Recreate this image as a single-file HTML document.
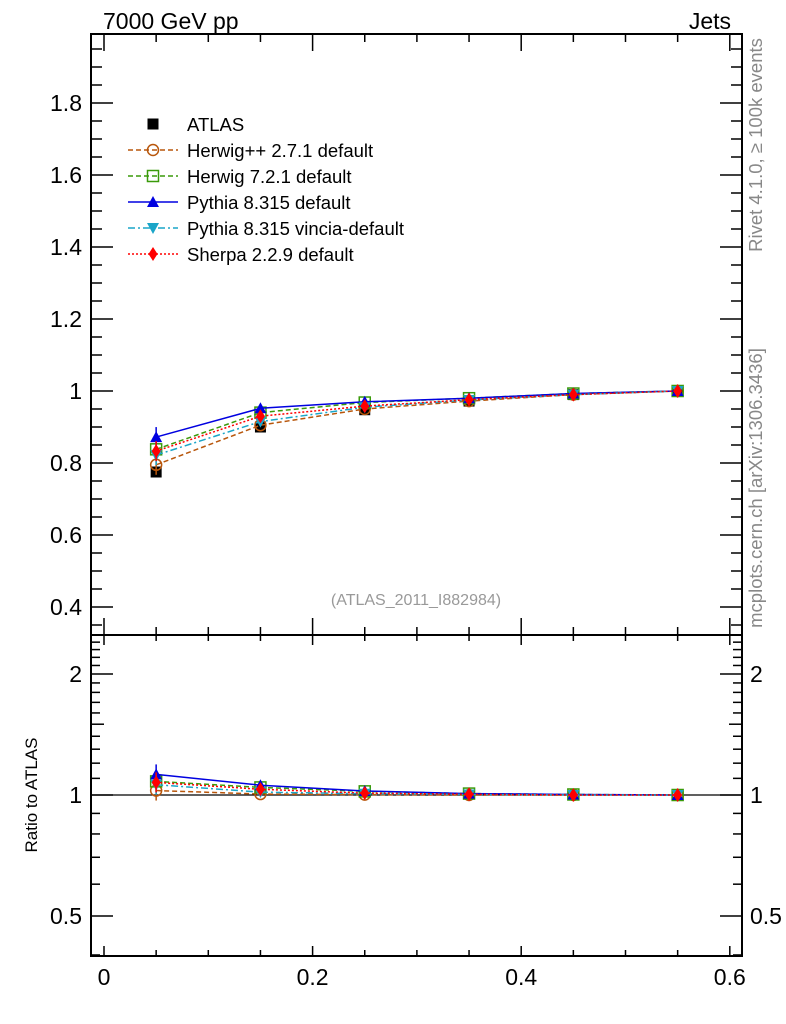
<!DOCTYPE html>
<html><head><meta charset="utf-8"><style>
html,body{margin:0;padding:0;background:#fff}
svg{display:block;font-family:"Liberation Sans",sans-serif}
</style></head><body>
<svg id="s" width="786" height="1024" xmlns="http://www.w3.org/2000/svg">
<text x="103" y="29" font-size="23">7000 GeV pp</text>
<text x="731" y="29" font-size="23" text-anchor="end">Jets</text>
<text transform="translate(762,145) rotate(-90)" font-size="18.5" fill="#888" text-anchor="middle">Rivet 4.1.0, ≥ 100k events</text>
<text transform="translate(762,488) rotate(-90)" font-size="18.5" fill="#888" text-anchor="middle">mcplots.cern.ch [arXiv:1306.3436]</text>
<text x="416" y="605" font-size="16" fill="#999" text-anchor="middle">(ATLAS_2011_I882984)</text>
<text transform="translate(37,795) rotate(-90)" font-size="17" text-anchor="middle">Ratio to ATLAS</text>
<g id="g"></g>
</svg>
<script>
var g=document.getElementById('g'),h='';
var L=91,R=742,T=34,M=635,B=956;
function X(v){return 104+v*1043;}
function Y(v){return 391-(v-1)*360;}
function YR(v){return 795-Math.log10(v)*402;}
function ln(x1,y1,x2,y2,c,w,d){h+='<line x1="'+x1+'" y1="'+y1+'" x2="'+x2+'" y2="'+y2+'" stroke="'+(c||'#000')+'" stroke-width="'+(w||1.5)+'"'+(d?' stroke-dasharray="'+d+'"':'')+'/>';}
function tx(x,y,s,a){h+='<text x="'+x+'" y="'+y+'" font-size="23" text-anchor="'+(a||'end')+'">'+s+'</text>';}
h+='<rect x="'+L+'" y="'+T+'" width="'+(R-L)+'" height="'+(M-T)+'" fill="none" stroke="#000" stroke-width="2"/>';
h+='<rect x="'+L+'" y="'+M+'" width="'+(R-L)+'" height="'+(B-M)+'" fill="none" stroke="#000" stroke-width="2"/>';
for(var i=0;i<=12;i++){var v=i*0.05,x=X(v),mj=i%4==0,l=mj?17:8;
 ln(x,M,x,M-l);ln(x,T,x,T+l);ln(x,B,x,B-(mj?10:6));ln(x,M,x,M+(mj?10:6));
 if(mj)tx(x,985,v==0?'0':v.toFixed(1),'middle');}
for(var i=7;i<=39;i++){var v=i*0.05,y=Y(v);if(y<T||y>M)continue;var mj=(i%4==0),l=mj?22:11;
 ln(L,y,L+l,y);ln(R,y,R-l,y);if(mj)tx(82,y+8,v.toFixed(1).replace(/\.0$/,''));}
var lt=[0.4,0.5,0.6,0.7,0.8,0.9,1,1.1,1.2,1.3,1.4,1.5,1.6,1.7,1.8,1.9,2,2.1,2.2,2.3,2.4];
lt.forEach(function(v){var y=YR(v);if(y<M||y>B)return;var mj=(v==0.5||v==1||v==2),l=mj?22:(v==1.5?13:9);
 ln(L,y,L+l,y);ln(R,y,R-l,y);if(mj){tx(82,y+8,String(v));tx(750,y+8,String(v),'start');}});
ln(L,YR(1),R,YR(1),'#000',1.2);
var xs=[0.05,0.15,0.25,0.35,0.45,0.55];
var atl=[0.775,0.9,0.948,0.972,0.99,1.0];
var S=[
 {c:'#b8560b',d:'5,3',m:'o',v:[0.795,0.905,0.95,0.972,0.99,1.0],n:'Herwig++ 2.7.1 default'},
 {c:'#3a9a0a',d:'5,3',m:'s',v:[0.838,0.94,0.968,0.98,0.993,1.0],n:'Herwig 7.2.1 default'},
 {c:'#0000e0',d:'',m:'t',v:[0.872,0.952,0.97,0.98,0.993,1.0],n:'Pythia 8.315 default'},
 {c:'#1aa5c8',d:'7,3,2,3',m:'v',v:[0.822,0.915,0.955,0.975,0.99,1.0],n:'Pythia 8.315 vincia-default'},
 {c:'#ff0000',d:'2,2',m:'d',v:[0.833,0.93,0.958,0.976,0.99,1.0],n:'Sherpa 2.2.9 default'}];
function mk(t,x,y,c){
 if(t=='o')h+='<circle cx="'+x+'" cy="'+y+'" r="5.5" fill="none" stroke="'+c+'" stroke-width="1.5"/>';
 else if(t=='s')h+='<rect x="'+(x-5.5)+'" y="'+(y-5.5)+'" width="11" height="11" fill="none" stroke="'+c+'" stroke-width="1.5"/>';
 else if(t=='t')h+='<polygon points="'+x+','+(y-6)+' '+(x-6)+','+(y+5)+' '+(x+6)+','+(y+5)+'" fill="'+c+'"/>';
 else if(t=='v')h+='<polygon points="'+x+','+(y+6)+' '+(x-6)+','+(y-5)+' '+(x+6)+','+(y-5)+'" fill="'+c+'"/>';
 else if(t=='d')h+='<polygon points="'+x+','+(y-7)+' '+(x-4.5)+','+y+' '+x+','+(y+7)+' '+(x+4.5)+','+y+'" fill="'+c+'"/>';
 else h+='<rect x="'+(x-5.5)+'" y="'+(y-5.5)+'" width="11" height="11" fill="#000"/>';}
xs.forEach(function(x,i){mk('a',X(x),Y(atl[i]));});
S.forEach(function(s){var p='',pr='';
 xs.forEach(function(x,i){p+=X(x)+','+Y(s.v[i])+' ';pr+=X(x)+','+YR(s.v[i]/atl[i])+' ';});
 h+='<polyline points="'+p+'" fill="none" stroke="'+s.c+'" stroke-width="1.5"'+(s.d?' stroke-dasharray="'+s.d+'"':'')+'/>';
 h+='<polyline points="'+pr+'" fill="none" stroke="'+s.c+'" stroke-width="1.5"'+(s.d?' stroke-dasharray="'+s.d+'"':'')+'/>';
 xs.forEach(function(x,i){if(i==0){ln(X(x),Y(s.v[i])-10,X(x),Y(s.v[i])+10,s.c,1.5);ln(X(x),YR(s.v[i]/atl[i])-10,X(x),YR(s.v[i]/atl[i])+10,s.c,1.5);}
  mk(s.m,X(x),Y(s.v[i]),s.c);mk(s.m,X(x),YR(s.v[i]/atl[i]),s.c);});});
mk('a',153,124);h+='<text x="187" y="131" font-size="18.5">ATLAS</text>';
S.forEach(function(s,k){var y=150+k*26;ln(128,y,178,y,s.c,1.5,s.d);mk(s.m,153,y,s.c);
 h+='<text x="187" y="'+(y+7)+'" font-size="18.5">'+s.n+'</text>';});
g.innerHTML=h;
</script>
</body></html>
